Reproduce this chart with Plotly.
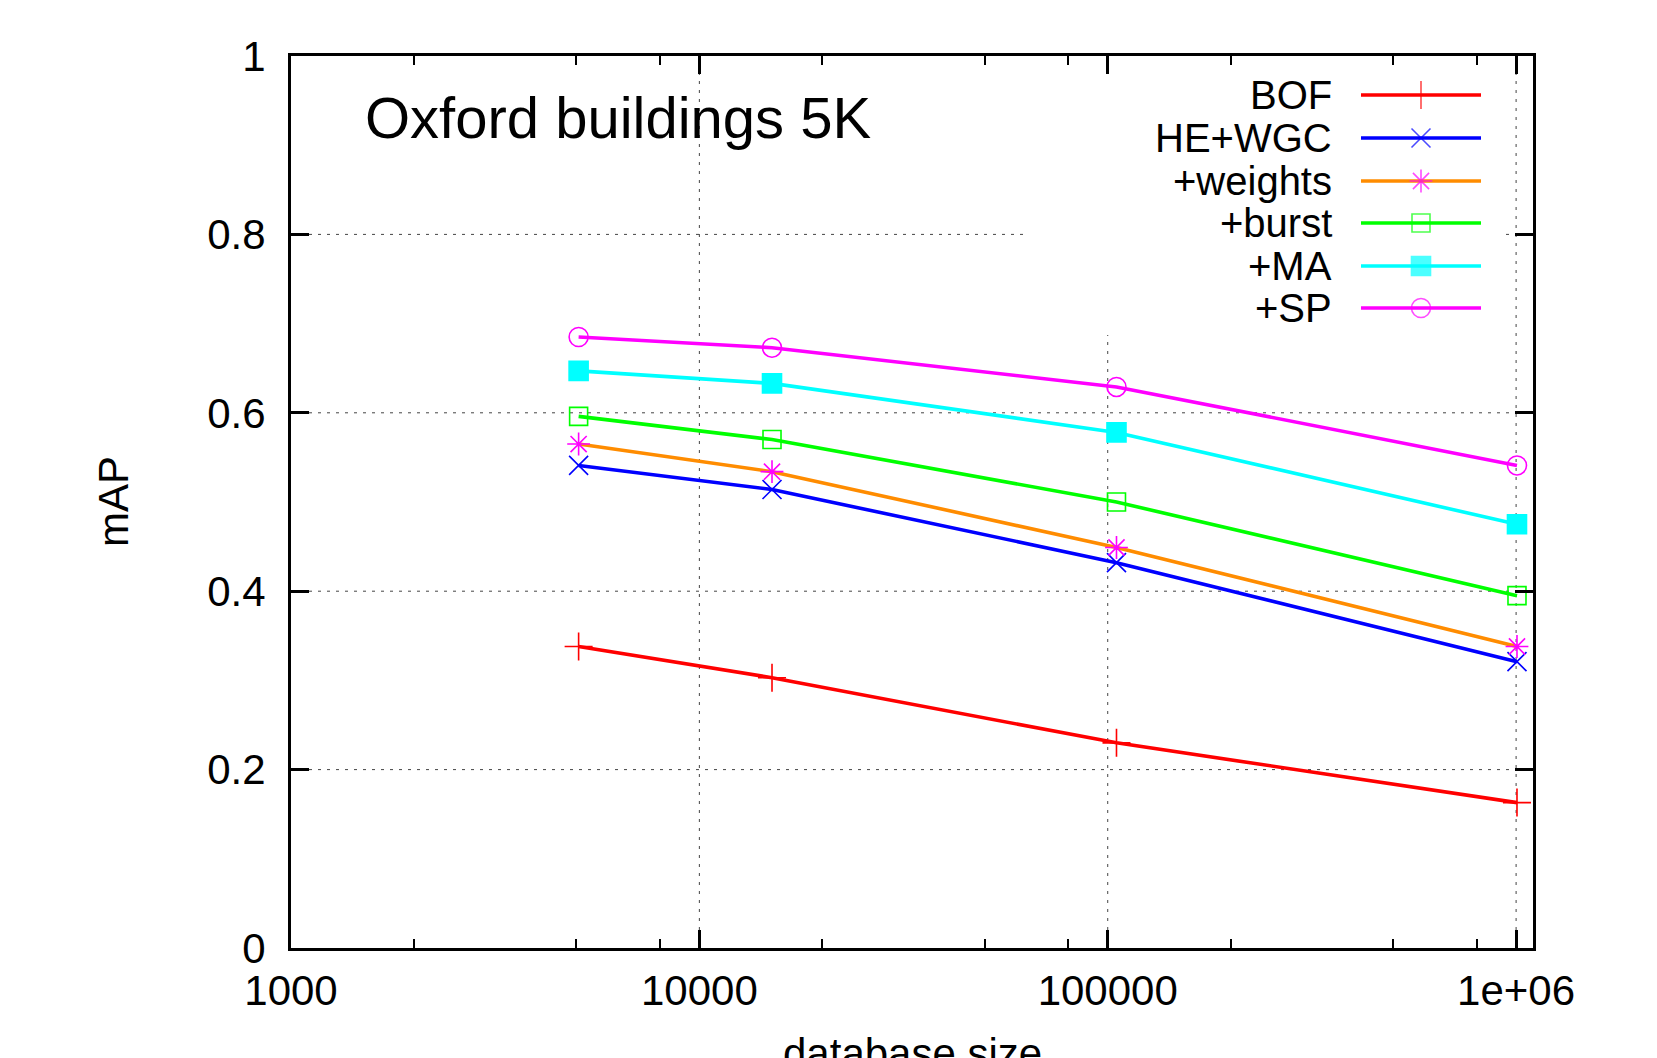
import plotly.graph_objects as go
import math

# ---------------- data ----------------
db_size = [5062, 15062, 105062, 1005062]
series_names = ["BOF", "HE+WGC", "+weights", "+burst", "+MA", "+SP"]
bof = [0.338, 0.303, 0.230, 0.163]
he_wgc = [0.541, 0.514, 0.432, 0.321]
weights = [0.565, 0.534, 0.449, 0.338]
burst = [0.596, 0.570, 0.500, 0.395]
ma = [0.647, 0.633, 0.578, 0.475]
sp = [0.685, 0.673, 0.629, 0.541]
x_tick_vals = [1000, 10000, 100000, 1000000]
x_tick_text = ["1000", "10000", "100000", "1e+06"]
y_tick_vals = [0, 0.2, 0.4, 0.6, 0.8, 1.0]
y_tick_text = ["0", "0.2", "0.4", "0.6", "0.8", "1"]
x_minor = [m * 10 ** e for e in (3, 4, 5) for m in (2, 5, 8)]

# ---------------- styles ----------------
values = [bof, he_wgc, weights, burst, ma, sp]
line_colors = ["#ff0000", "#0000ff", "#ff8c00", "#00ff00", "#00ffff", "#ff00ff"]
marker_colors = ["#ff0000", "#0000ff", "#ff00ff", "#00ff00", "#00ffff", "#ff00ff"]
symbols = ["cross-thin", "x-thin", "asterisk", "square-open", "square", "circle-open"]
sizes = [20, 19, 19, 18, 19, 19]

FONT = "Liberation Sans, Arial, sans-serif"
W, H = 1657, 1058
L, R, T, B = 283, 1657 - 1525, 48, 1058 - 940
PW, PH = W - L - R, H - T - B
XLO, XHI = 3, math.log10(1.1e6)


def px(xr):
    return (xr - L) / PW


def py(yr):
    return (H - B - yr) / PH


fig = go.Figure()

for name, ys, lc, mc, sym, sz in zip(series_names, values, line_colors, marker_colors, symbols, sizes):
    fig.add_trace(go.Scatter(
        x=db_size, y=ys, name=name, mode="lines+markers",
        line=dict(color=lc, width=3.6),
        marker=dict(symbol=sym, size=sz, color=mc, line=dict(color=mc, width=1.6)),
        showlegend=False, cliponaxis=False,
    ))

# custom gnuplot-style key (text left, sample right)
row_y = [87, 130, 173, 215, 258, 300]
annotations = []
for name, yr, lc, mc, sym, sz in zip(series_names, row_y, line_colors, marker_colors, symbols, sizes):
    yp = py(yr)
    fig.add_trace(go.Scatter(
        x=[px(1353), px(1413), px(1473)], y=[yp, yp, yp], xaxis="x2", yaxis="y2",
        mode="lines+markers", line=dict(color=lc, width=3.6),
        marker=dict(symbol=sym, size=[0, sz, 0], color=mc, line=dict(color=mc, width=1.6)),
        showlegend=False, hoverinfo="skip", cliponaxis=False,
    ))
    annotations.append(dict(
        text=name, x=px(1326), y=yp, xref="paper", yref="paper",
        xanchor="right", yanchor="middle", showarrow=False,
        font=dict(family=FONT, size=40, color="black"),
    ))

annotations.append(dict(
    text="Oxford buildings 5K", x=px(355), y=py(110), xref="paper", yref="paper",
    xanchor="left", yanchor="middle", showarrow=False,
    font=dict(family=FONT, size=58, color="black"),
))
annotations.append(dict(
    text="mAP", x=px(105), y=py(494), xref="paper", yref="paper",
    xanchor="center", yanchor="middle", showarrow=False, textangle=-90,
    font=dict(family=FONT, size=42, color="black"),
))
annotations.append(dict(
    text="database size", x=px(904), y=py(1020), xref="paper", yref="paper",
    xanchor="center", yanchor="top", showarrow=False,
    font=dict(family=FONT, size=42, color="black"),
))

# grid lines drawn as shapes, interrupted behind the opaque key box
grid = dict(color="#444444", width=1, dash="3px,6px")
shapes = []
for yv in y_tick_vals[1:-1]:
    if yv == 0.8:
        segs = [(0, px(1016)), (px(1498), 1)]
    else:
        segs = [(0, 1)]
    for a, b in segs:
        shapes.append(dict(type="line", xref="paper", yref="y", x0=a, x1=b, y0=yv, y1=yv,
                           line=grid, layer="below"))
for xv in x_tick_vals[1:]:
    top = py(327) if xv == 100000 else 1
    xp = (math.log10(xv) - XLO) / (XHI - XLO)
    shapes.append(dict(type="line", xref="paper", yref="paper", x0=xp, x1=xp,
                       y0=0, y1=top, line=grid, layer="below"))

axis_common = dict(
    showline=True, linecolor="black", linewidth=3, mirror="ticks",
    ticks="inside", ticklen=18, tickwidth=2.5, tickcolor="black",
    showgrid=False, zeroline=False,
    tickfont=dict(family=FONT, size=42, color="black"),
)

fig.update_layout(
    width=W, height=H,
    margin=dict(l=L, r=R, t=T, b=B, pad=0),
    paper_bgcolor="white", plot_bgcolor="white",
    xaxis=dict(type="log", range=[XLO, XHI],
               tickvals=x_tick_vals, ticktext=x_tick_text, ticklabelstandoff=4,
               minor=dict(tickvals=x_minor, ticks="inside", ticklen=9, tickwidth=2, tickcolor="black", showgrid=False),
               **axis_common),
    yaxis=dict(range=[0, 1], tickvals=y_tick_vals, ticktext=y_tick_text, ticklabelstandoff=14,
               **axis_common),
    xaxis2=dict(overlaying="x", range=[0, 1], visible=False, fixedrange=True),
    yaxis2=dict(overlaying="y", range=[0, 1], visible=False, fixedrange=True),
    annotations=annotations,
    shapes=shapes,
    showlegend=False,
)

fig.write_html("out.html")
